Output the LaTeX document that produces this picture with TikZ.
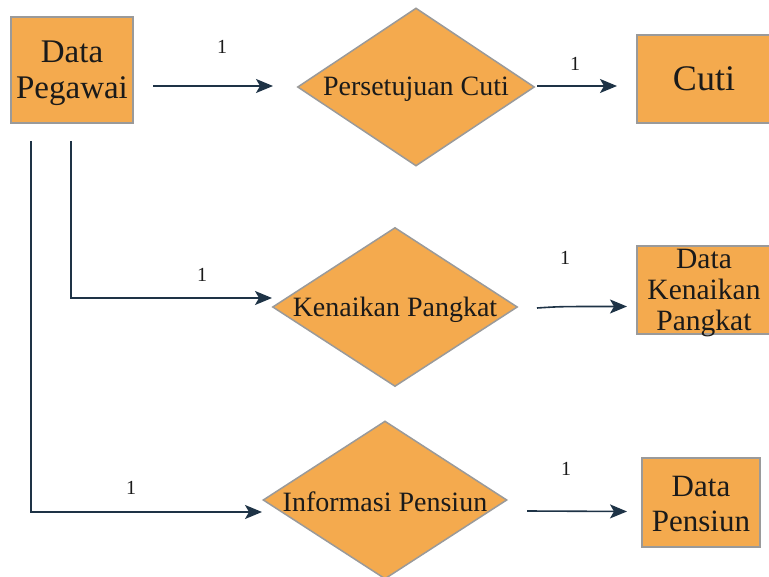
\documentclass[tikz,border=0pt]{standalone}
\usepackage{fontspec}
\setmainfont{Liberation Serif}
\usetikzlibrary{shapes.geometric,arrows.meta}
\definecolor{fillc}{HTML}{F4AA4E}
\definecolor{edgec}{HTML}{9A9A9A}
\definecolor{linec}{HTML}{1E3346}
\definecolor{txtc}{HTML}{1A1A1A}
\begin{document}
\begin{tikzpicture}[x=1pt,y=-1pt,
  entity/.style={rectangle,draw=edgec,line width=1.5pt,fill=fillc,inner sep=0pt},
  relation/.style={diamond,draw=edgec,line width=1.5pt,fill=fillc,inner sep=0pt},
  etext/.style={text=txtc,align=center,inner sep=0pt},
  rtext/.style={text=txtc,inner sep=0pt,font=\fontsize{28}{30}\selectfont},
  conn/.style={draw=linec,line width=1.6pt,-{Stealth[length=17pt,width=14pt,inset=4pt]}},
  card/.style={text=txtc,font=\fontsize{20}{22}\selectfont,inner sep=0pt}]
\useasboundingbox (0,0) rectangle (769,577);
% entities
\node[entity,minimum width=122,minimum height=106] (dp) at (72,70) {};
\node[etext,font=\fontsize{33}{36}\selectfont] (dpt) at (72,73.5) {Data\\Pegawai};
\node[entity,minimum width=134,minimum height=88] (cuti) at (704,79) {};
\node[etext,font=\fontsize{36}{38}\selectfont] (cutit) at (704,79) {Cuti};
\node[entity,minimum width=134,minimum height=88] (dkp) at (704,290) {};
\node[etext,font=\fontsize{29.5}{31}\selectfont] (dkpt) at (704,293.5) {Data\\Kenaikan\\Pangkat};
\node[entity,minimum width=118,minimum height=89] (dps) at (701,502.5) {};
\node[etext,font=\fontsize{31}{35}\selectfont] (dpst) at (701,504.5) {Data\\Pensiun};
% relations
\node[relation,minimum width=237,minimum height=158,shape aspect=1.5] (pc) at (416,87) {};
\node[rtext] (pct) at (416,89) {Persetujuan Cuti};
\node[relation,minimum width=245,minimum height=159,shape aspect=1.54] (kp) at (395,307) {};
\node[rtext] (kpt) at (395,309.5) {Kenaikan Pangkat};
\node[relation,minimum width=244,minimum height=158,shape aspect=1.54] (ip) at (385,500) {};
\node[rtext] (ipt) at (385,502) {Informasi Pensiun};
% connector ends
\coordinate (a1s) at (153,86);  \coordinate (a1e) at (273,86);
\coordinate (a2s) at (537,86);  \coordinate (a2e) at (617,86);
\coordinate (a3s) at (71,141);  \coordinate (a3m) at (71,298); \coordinate (a3e) at (272,298);
\coordinate (a4s) at (537,308); \coordinate (a4e) at (627,306.5);
\coordinate (a5s) at (31,141);  \coordinate (a5m) at (31,512); \coordinate (a5e) at (262,512);
\coordinate (a6s) at (527,511); \coordinate (a6e) at (627,511.5);
\draw[conn] (a1s) -- (a1e);
\draw[conn] (a2s) -- (a2e);
\draw[conn] (a3s) -- (a3m) -- (a3e);
\draw[conn] (a4s) .. controls (560,306.5) .. (a4e);
\draw[conn] (a5s) -- (a5m) -- (a5e);
\draw[conn] (a6s) -- (a6e);
% cardinalities
\node[card] (c1) at (222,47) {1};
\node[card] (c2) at (575,64) {1};
\node[card] (c3) at (202,275) {1};
\node[card] (c4) at (565,258) {1};
\node[card] (c5) at (131,488) {1};
\node[card] (c6) at (566,469) {1};
\end{tikzpicture}
\end{document}
